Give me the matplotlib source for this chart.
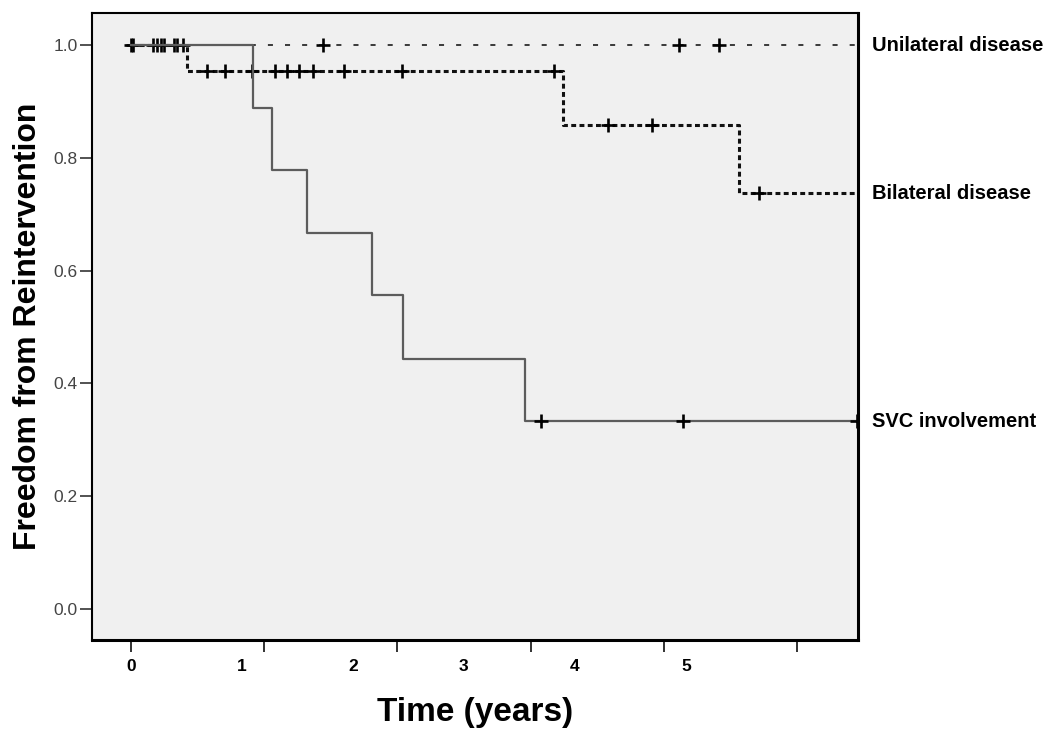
import numpy as np
import matplotlib
matplotlib.use("Agg")
import matplotlib.pyplot as plt

# Kaplan-Meier data (time in years)
group_names = ["Unilateral disease", "Bilateral disease", "SVC involvement"]

uni_event_times = []
uni_event_surv = []
uni_censor_times = [0.0, 0.018, 0.198, 0.234, 0.270, 0.297, 0.387, 0.414,
                    0.468, 1.730, 4.937, 5.297]
uni_end = 6.55

bil_event_times = [0.505, 3.892, 5.477]
bil_event_surv = [0.9545, 0.858, 0.7376]
bil_censor_times = [0.685, 0.847, 1.090, 1.297, 1.405, 1.514, 1.640, 1.919,
                    2.441, 3.811, 4.297, 4.694, 5.658]
bil_end = 6.55

svc_event_times = [1.099, 1.270, 1.586, 2.171, 2.450, 3.550]
svc_event_surv = [0.889, 0.778, 0.667, 0.556, 0.444, 0.333]
svc_censor_times = [3.694, 4.973, 6.541]
svc_end = 6.541

x_tick_pos = [0, 1.2, 2.4, 3.6, 4.8, 6.0]
x_label_pos = [0, 1, 2, 3, 4, 5]
x_labels = ["0", "1", "2", "3", "4", "5"]
y_ticks = [0.0, 0.2, 0.4, 0.6, 0.8, 1.0]


def km_steps(times, surv, end):
    xs = np.concatenate([[0.0], times, [end]])
    ys = np.concatenate([[1.0], surv, [surv[-1] if len(surv) else 1.0]])
    return xs, ys


def surv_at(times, surv, t):
    idx = np.searchsorted(np.asarray(times), np.asarray(t), side="right")
    levels = np.concatenate([[1.0], surv])
    return levels[idx]


fig = plt.figure(figsize=(10.5, 7.41), dpi=100)
ax = fig.add_axes([0.0876, 0.1363, 0.7295, 0.8462])
ax.set_facecolor("#f0f0f0")

styles = [
    dict(color="#3a3a3a", lw=1.4, dashes=(2.6, 6.2)),
    dict(color="#111111", lw=2.2, dashes=(1.6, 1.1)),
    dict(color="#5c5c5c", lw=1.6, ls="-"),
]
groups = [
    (uni_event_times, uni_event_surv, uni_censor_times, uni_end),
    (bil_event_times, bil_event_surv, bil_censor_times, bil_end),
    (svc_event_times, svc_event_surv, svc_censor_times, svc_end),
]

for (et, es, ct, end), st, name in zip(groups, styles, group_names):
    xs, ys = km_steps(et, es, end)
    ax.step(xs, ys, where="post", **st)
    cy = surv_at(et, es, ct)
    ax.plot(ct, cy, ls="none", marker="+", ms=10.5, mew=1.9, color="black")
    ax.text(1.018, ys[-1], name, transform=ax.get_yaxis_transform(),
            ha="left", va="center", fontsize=14.5, fontweight="bold",
            family="Liberation Sans", clip_on=False)

ax.set_xlim(-0.351, 6.55)
ax.set_ylim(-0.055, 1.057)

# ticks and year labels do not line up in the original, keep it that way
ax.xaxis.remove_overlapping_locs = False
ax.set_xticks(x_tick_pos)
ax.set_xticklabels([])
ax.set_xticks(x_label_pos, minor=True)
ax.set_xticklabels(x_labels, minor=True, fontsize=12.5, fontweight="bold",
                   family="Liberation Sans")
ax.tick_params(axis="x", which="major", direction="out", length=8.6,
               width=1.3, color="#222222")
ax.tick_params(axis="x", which="minor", length=0, pad=14)

ax.set_yticks(y_ticks)
ax.set_yticklabels([f"{v:.1f}" for v in y_ticks], fontsize=12.5,
                   color="#444444", family="Liberation Sans")
ax.tick_params(axis="y", direction="out", length=8.6, width=1.3,
               color="#444444", pad=1.5)

for sp in ax.spines.values():
    sp.set_linewidth(1.5)
    sp.set_color("black")
ax.spines["bottom"].set_linewidth(2.2)
ax.spines["right"].set_linewidth(2.2)

ax.set_xlabel("Time (years)", fontsize=24, fontweight="bold",
              family="Liberation Sans")
ax.xaxis.set_label_coords(0.5, -0.1164)
ax.xaxis.label.set_verticalalignment("center")

ax.set_ylabel("Freedom from Reintervention", fontsize=23, fontweight="bold",
              family="Liberation Sans")
ax.yaxis.set_label_coords(-0.0836, 0.5)
ax.yaxis.label.set_verticalalignment("center")

fig.savefig("out.png", dpi=100, facecolor="white")
